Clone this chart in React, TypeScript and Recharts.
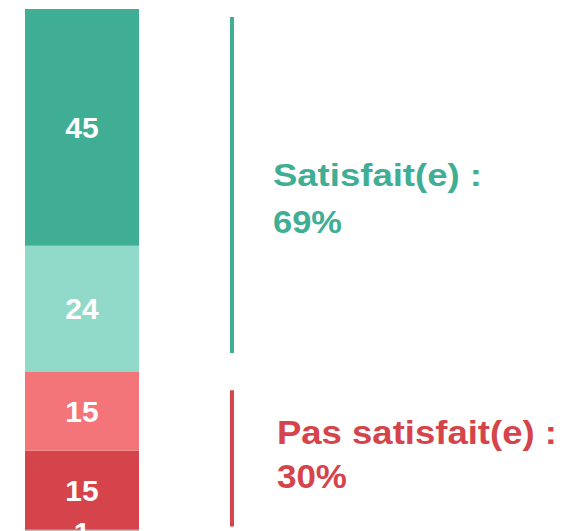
import { Bar, ComposedChart, LabelList, ReferenceLine, XAxis, YAxis } from "recharts";

// stacked segments, bottom to top
const segmentKeys = ["autre", "pasDuTout", "plutotPas", "plutot", "tres"];
const segmentValues = [1, 15, 15, 24, 45];
const segmentColors = ["#BEBEBE", "#D6444B", "#F37479", "#91D9C8", "#3FAE94"];

// position of the bar on the hidden 0-100 x axis
const barPosition = 13.05;

// brackets on the right
const groupTitles = ["Satisfait(e) :", "Pas satisfait(e) :"];
const groupPercents = ["69%", "30%"];
const groupFrom = [34.6, 1.6];
const groupTo = [98.5, 27.5];
const bracketPosition = 39.5;

const groupStyles = [
  { color: "#3FAE94", fontSize: 32, dx: 41, dy1: 1, dy2: 48, len1: 209, len2: 69 },
  { color: "#D6444B", fontSize: 33, dx: 45, dy1: -14, dy2: 30, len1: 280, len2: 70 },
];

const row: Record<string, number> = { pos: barPosition };
segmentKeys.forEach((k, i) => {
  row[k] = segmentValues[i];
});
const data = [row];

const FONT = "'Liberation Sans', Arial, sans-serif";

function GroupLabel(props: any, i: number) {
  const vb = props.viewBox || {};
  const s = groupStyles[i];
  const x = (vb.x ?? 0) + s.dx;
  const cy = (vb.y ?? 0) + (vb.height ?? 0) / 2;
  return (
    <g>
      <text
        x={x}
        y={cy + s.dy1}
        fill={s.color}
        fontSize={s.fontSize}
        fontWeight="bold"
        fontFamily={FONT}
        textLength={s.len1}
        lengthAdjust="spacingAndGlyphs"
      >
        {groupTitles[i]}
      </text>
      <text
        x={x}
        y={cy + s.dy2}
        fill={s.color}
        fontSize={s.fontSize}
        fontWeight="bold"
        fontFamily={FONT}
        textLength={s.len2}
        lengthAdjust="spacingAndGlyphs"
      >
        {groupPercents[i]}
      </text>
    </g>
  );
}

export default function App() {
  return (
    <div style={{ width: 567, height: 523, overflow: "hidden" }}>
      <ComposedChart
        width={567}
        height={540}
        data={data}
        margin={{ top: 1, right: 0, bottom: 13, left: 0 }}
        style={{ fontFamily: FONT }}
      >
        <XAxis dataKey="pos" type="number" domain={[0, 100]} hide />
        <YAxis type="number" domain={[0, 100]} hide />
        {segmentKeys.map((k, i) => (
          <Bar
            key={k}
            dataKey={k}
            stackId="a"
            barSize={114}
            fill={segmentColors[i]}
            isAnimationActive={false}
          >
            <LabelList
              dataKey={k}
              position="center"
              fill="#FFFFFF"
              fontSize={30}
              fontWeight="bold"
              fontFamily={FONT}
            />
          </Bar>
        ))}
        {groupTitles.map((t, i) => (
          <ReferenceLine
            key={t}
            segment={[
              { x: bracketPosition, y: groupFrom[i] },
              { x: bracketPosition, y: groupTo[i] },
            ]}
            stroke={groupStyles[i].color}
            strokeWidth={4}
            ifOverflow="visible"
            label={(p: any) => GroupLabel(p, i)}
          />
        ))}
      </ComposedChart>
    </div>
  );
}
